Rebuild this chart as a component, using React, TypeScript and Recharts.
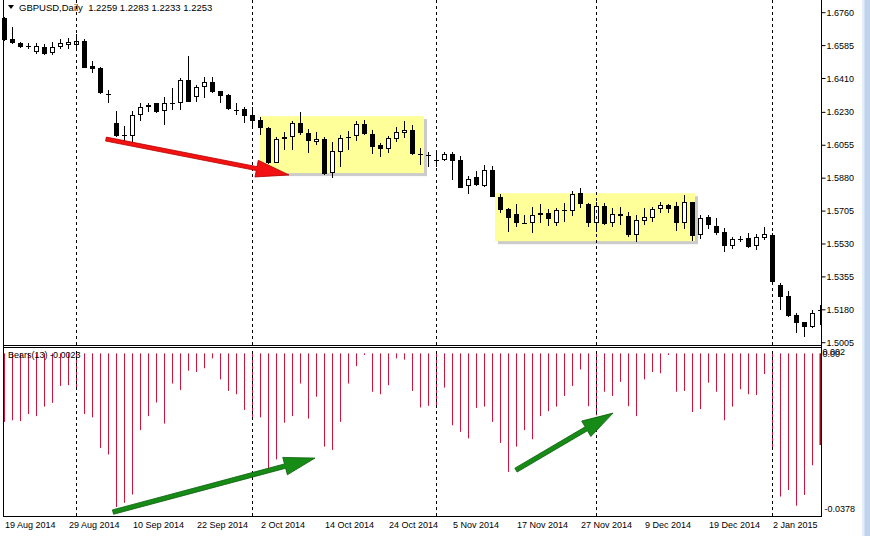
import { ComposedChart, Bar, XAxis, YAxis, ReferenceLine, ReferenceArea } from "recharts";

// GBPUSD daily candles, 19 Aug 2014 .. Jan 2015
const openP = [
  1.6732, 1.6619, 1.66, 1.6585, 1.6549, 1.6579, 1.6544, 1.6576, 1.6587, 1.659,
  1.6611, 1.6476, 1.6466, 1.633, 1.6172, 1.6108, 1.6106, 1.6214, 1.6257, 1.628,
  1.6237, 1.6279, 1.6278, 1.6402, 1.631, 1.6363, 1.6393, 1.6345, 1.6322, 1.6244,
  1.6246, 1.6216, 1.6189, 1.6148, 1.5962, 1.6087, 1.6101, 1.6172, 1.6119, 1.6074,
  1.6088, 1.5906, 1.6021, 1.6094, 1.6106, 1.6168, 1.6115, 1.6056, 1.6035, 1.6087,
  1.6122, 1.6136, 1.6008, 1.6002, 1.5975, 1.5976, 1.6008, 1.5977, 1.5838, 1.5884,
  1.5838, 1.5923, 1.5781, 1.5714, 1.5689, 1.5641, 1.564, 1.5682, 1.5693, 1.564,
  1.5709, 1.5705, 1.5799, 1.5741, 1.5643, 1.5732, 1.564, 1.5689, 1.5678, 1.5578,
  1.5652, 1.567, 1.5718, 1.5737, 1.5732, 1.564, 1.5755, 1.5578, 1.5672, 1.5627,
  1.5595, 1.5521, 1.5558, 1.5563, 1.5521, 1.5563, 1.5578, 1.5312, 1.5255, 1.5152,
  1.5116, 1.509, 1.5175,
];
const highP = [
  1.6735, 1.6686, 1.6604, 1.66, 1.66, 1.6595, 1.6606, 1.6619, 1.6624, 1.6645,
  1.6619, 1.6503, 1.6473, 1.6349, 1.6237, 1.6159, 1.6237, 1.6281, 1.6281, 1.6281,
  1.6313, 1.6358, 1.6411, 1.653, 1.6376, 1.6416, 1.6416, 1.6345, 1.633, 1.6281,
  1.6257, 1.6257, 1.6207, 1.615, 1.6097, 1.6127, 1.6185, 1.623, 1.614, 1.6127,
  1.6097, 1.6071, 1.6109, 1.6131, 1.6184, 1.6189, 1.6136, 1.6065, 1.6104, 1.615,
  1.6184, 1.6163, 1.6039, 1.6021, 1.603, 1.6021, 1.6021, 1.5998, 1.5891, 1.592,
  1.595, 1.5945, 1.5796, 1.572, 1.5742, 1.5684, 1.5725, 1.5741, 1.5714, 1.572,
  1.5746, 1.5812, 1.5829, 1.5746, 1.5755, 1.575, 1.572, 1.5728, 1.57, 1.5684,
  1.572, 1.5728, 1.5755, 1.5742, 1.5752, 1.579, 1.5755, 1.5684, 1.5684, 1.5666,
  1.5613, 1.5565, 1.5572, 1.5587, 1.5583, 1.5622, 1.5587, 1.5321, 1.528, 1.5161,
  1.5116, 1.5179, 1.5205,
];
const lowP = [
  1.6612, 1.6595, 1.6571, 1.6565, 1.654, 1.6535, 1.6535, 1.6565, 1.6565, 1.6565,
  1.6465, 1.6441, 1.6328, 1.6281, 1.61, 1.6074, 1.6069, 1.6185, 1.6233, 1.6225,
  1.6163, 1.6242, 1.6242, 1.6285, 1.6287, 1.6305, 1.6331, 1.6278, 1.624, 1.6216,
  1.6172, 1.6145, 1.6109, 1.5954, 1.5959, 1.603, 1.603, 1.6109, 1.6012, 1.6056,
  1.5897, 1.5879, 1.5941, 1.603, 1.6079, 1.6109, 1.6009, 1.5994, 1.6015, 1.6074,
  1.6092, 1.6003, 1.595, 1.5941, 1.5941, 1.597, 1.587, 1.5826, 1.5794, 1.5838,
  1.5835, 1.5778, 1.5696, 1.5595, 1.5622, 1.5639, 1.559, 1.564, 1.5625, 1.5625,
  1.5648, 1.5679, 1.572, 1.5619, 1.5595, 1.5629, 1.5622, 1.5629, 1.5569, 1.5542,
  1.5629, 1.5648, 1.5693, 1.5696, 1.56, 1.5609, 1.5547, 1.5555, 1.5608, 1.5578,
  1.5489, 1.5502, 1.5539, 1.5507, 1.5498, 1.5551, 1.5321, 1.5179, 1.5143, 1.5058,
  1.5037, 1.5081, 1.51,
];
const closeP = [
  1.6615, 1.6597, 1.6579, 1.6583, 1.6583, 1.654, 1.6576, 1.6597, 1.6606, 1.6608,
  1.6467, 1.6462, 1.6331, 1.6325, 1.6104, 1.6106, 1.6214, 1.6258, 1.6267, 1.6233,
  1.6279, 1.6281, 1.6402, 1.6287, 1.6363, 1.6393, 1.634, 1.6317, 1.6246, 1.6242,
  1.6212, 1.6186, 1.6145, 1.5959, 1.6087, 1.6101, 1.6172, 1.6119, 1.6079, 1.6088,
  1.5902, 1.6024, 1.6094, 1.6098, 1.6166, 1.6115, 1.6047, 1.6033, 1.6094, 1.6124,
  1.6136, 1.6008, 1.6006, 1.6004, 1.5973, 1.6008, 1.5973, 1.5829, 1.5874, 1.5843,
  1.5923, 1.5781, 1.5711, 1.567, 1.5643, 1.564, 1.5684, 1.5696, 1.5663, 1.5711,
  1.5711, 1.5794, 1.5741, 1.5643, 1.5732, 1.5636, 1.5688, 1.5678, 1.5578, 1.5657,
  1.5672, 1.5716, 1.5737, 1.5714, 1.564, 1.5752, 1.5572, 1.567, 1.5631, 1.559,
  1.5521, 1.5555, 1.5557, 1.5515, 1.5565, 1.5583, 1.5326, 1.5249, 1.5148, 1.5111,
  1.509, 1.5162, 1.518,
];
// Bears Power (13)
const bearsPower = [
  -0.0166, -0.0162, -0.0164, -0.0147, -0.0152, -0.0129, -0.012, -0.0079, -0.0077, -0.0084,
  -0.0147, -0.0155, -0.0229, -0.0245, -0.0372, -0.0362, -0.0342, -0.0186, -0.0152, -0.0119,
  -0.017, -0.0073, -0.0089, -0.0042, -0.0045, -0.0036, -0.0012, -0.0063, -0.0091, -0.0099,
  -0.0137, -0.0154, -0.0155, -0.0279, -0.0257, -0.0168, -0.0152, -0.0073, -0.0158, -0.0105,
  -0.0226, -0.0234, -0.0166, -0.0073, -0.0031, -0.0004, -0.0093, -0.0099, -0.0077, -0.0012,
  -0.0015, -0.0091, -0.0131, -0.0127, -0.013, -0.0083, -0.0174, -0.019, -0.0206, -0.0132,
  -0.0129, -0.0166, -0.0217, -0.0287, -0.0226, -0.0186, -0.0208, -0.0152, -0.014, -0.0129,
  -0.0103, -0.0079, -0.0039, -0.0128, -0.015, -0.0093, -0.0103, -0.0069, -0.0128, -0.0152,
  -0.0063, -0.0045, -0.0048, -0.0004, -0.0093, -0.0091, -0.0142, -0.0135, -0.0071, -0.0093,
  -0.0162, -0.0129, -0.0087, -0.0099, -0.0101, -0.005, -0.0233, -0.0347, -0.0331, -0.0369,
  -0.0343, -0.0271, -0.0222,
];

const priceTicks = [1.676, 1.6585, 1.641, 1.623, 1.6055, 1.588, 1.5705, 1.553, 1.5355, 1.518, 1.5005];
const dateTickIdx = [0, 8, 16, 24, 32, 40, 48, 56, 64, 72, 80, 88, 96];
const dateTickLabels = [
  "19 Aug 2014", "29 Aug 2014", "10 Sep 2014", "22 Sep 2014", "2 Oct 2014", "14 Oct 2014",
  "24 Oct 2014", "5 Nov 2014", "17 Nov 2014", "27 Nov 2014", "9 Dec 2014", "19 Dec 2014", "2 Jan 2015",
];
const monthStarts = [9, 31, 54, 74, 96];

// annotations drawn on the screenshot (bar index / price)
const boxes = [
  { x1: 32, x2: 52.5, y1: 1.5907, y2: 1.621 },
  { x1: 61.375, x2: 86.375, y1: 1.5545, y2: 1.58 },
];
const redArrow = [{ x: 12.75, y: 1.6088 }, { x: 35.625, y: 1.5897 }];
const greenArrows = [
  [{ x: 13.625, y: -0.03845 }, { x: 38.875, y: -0.02537 }],
  [{ x: 64, y: -0.02828 }, { x: 76.125, y: -0.01447 }],
];

const rows = openP.map((o, i) => ({
  idx: i,
  open: o,
  high: highP[i],
  low: lowP[i],
  close: closeP[i],
  bears: bearsPower[i],
}));

const FONT = "'Liberation Sans', Arial, sans-serif";
const X_DOMAIN = [-0.5, 102.1875];
const AXIS_W = 48.5;

const Candle = (props: any) => {
  const { x, y, width, height, payload } = props;
  const cx = Math.round(x + width / 2);
  const top = Math.min(y, y + height);
  const bot = Math.max(y, y + height);
  const { open, close, high, low } = payload;
  const py = (v: number) => top + ((high - v) / (high - low)) * (bot - top);
  const bt = Math.round(py(Math.max(open, close)));
  const bb = Math.round(py(Math.min(open, close)));
  let body;
  if (bb - bt <= 1) {
    body = <rect x={cx - 2} y={bt} width={5} height={1} fill="#000" />;
  } else if (close >= open) {
    body = (
      <rect x={cx - 1.5} y={bt + 0.5} width={4} height={bb - bt - 1} fill="#fff" stroke="#000" strokeWidth={1} />
    );
  } else {
    body = <rect x={cx - 2} y={bt} width={5} height={bb - bt} fill="#000" />;
  }
  return (
    <g>
      <line x1={cx + 0.5} x2={cx + 0.5} y1={Math.round(top)} y2={Math.round(bot)} stroke="#000" strokeWidth={1} />
      {body}
    </g>
  );
};

const BearBar = (props: any) => {
  const { x, y, width, height, payload } = props;
  const cx = Math.round(x + width / 2);
  const top = Math.min(y, y + height);
  const h = Math.abs(height);
  const last = payload.idx === rows.length - 1;
  return (
    <rect x={last ? cx - 0.5 : cx} y={top} width={last ? 2 : 1} height={h} fill={last ? "#9b0a1e" : "#d2143c"} />
  );
};

const Highlight = (props: any) => {
  const { x, y, width, height } = props;
  return (
    <g>
      <rect x={x + 3} y={y + 3} width={width} height={height} fill="#8c8c8c" opacity={0.45} />
      <rect x={x} y={y} width={width} height={height} fill="#ffff99" />
    </g>
  );
};

const Arrow = ({ x1, y1, x2, y2, fill, edge, shaft, head, half }: any) => {
  const dx = x2 - x1;
  const dy = y2 - y1;
  const len = Math.hypot(dx, dy);
  const ux = dx / len;
  const uy = dy / len;
  const nx = -uy;
  const ny = ux;
  const bx = x2 - ux * head;
  const by = y2 - uy * head;
  const s = shaft / 2;
  const pts = [
    [x1 + nx * s, y1 + ny * s],
    [bx + nx * s, by + ny * s],
    [bx + nx * half, by + ny * half],
    [x2, y2],
    [bx - nx * half, by - ny * half],
    [bx - nx * s, by - ny * s],
    [x1 - nx * s, y1 - ny * s],
  ];
  return (
    <polygon
      points={pts.map((p) => p.join(",")).join(" ")}
      fill={fill}
      stroke={edge}
      strokeWidth={0.8}
      strokeLinejoin="round"
    />
  );
};

const PriceTick = ({ x, y, payload }: any) => (
  <text x={x} y={y + 3} fontSize={9} fontFamily={FONT} fill="#000">
    {payload.value.toFixed(4)}
  </text>
);

const BearsTick = ({ x, y, payload }: any) =>
  payload.value === 0 ? (
    <g fontSize={9} fontFamily={FONT} fill="#000">
      <text x={x} y={y + 1.5}>0.002</text>
      <text x={x} y={y + 4}>0.00</text>
    </g>
  ) : (
    <text x={x + 2} y={y + 3} fontSize={9} fontFamily={FONT} fill="#000">
      {payload.value.toFixed(4)}
    </text>
  );

const DateTick = ({ x, y, payload }: any) => (
  <text x={x + 1} y={y + 12} fontSize={9} fontFamily={FONT} fill="#000">
    {dateTickLabels[dateTickIdx.indexOf(payload.value)]}
  </text>
);

export default function App() {
  return (
    <div style={{ position: "absolute", left: 0, top: 0, width: 870, height: 536, background: "#fff", overflow: "hidden" }}>
      {/* Bears(13) window */}
      <div style={{ position: "absolute", left: 0, top: 348 }}>
        <ComposedChart width={870} height={188} data={rows} margin={{ top: 0, right: 0, bottom: 0, left: 0 }}>
          <XAxis
            type="number"
            dataKey="idx"
            domain={X_DOMAIN}
            allowDataOverflow
            ticks={dateTickIdx}
            interval={0}
            height={20}
            axisLine={false}
            tickLine={false}
            tickSize={0}
            tickMargin={0}
            tick={<DateTick />}
          />
          <YAxis
            orientation="right"
            width={AXIS_W}
            domain={[-0.0394, 0.0013]}
            allowDataOverflow
            ticks={[0, -0.0378]}
            interval={0}
            axisLine={false}
            tickLine={false}
            tickSize={0}
            tickMargin={1}
            tick={<BearsTick />}
          />
          {monthStarts.map((m) => (
            <ReferenceLine key={m} x={m + 0.0625} stroke="#000" strokeDasharray="3 3" strokeWidth={1} />
          ))}
          <Bar dataKey="bears" barSize={1} shape={<BearBar />} isAnimationActive={false} />
          {greenArrows.map((seg, i) => (
            <ReferenceLine
              key={i}
              segment={seg}
              ifOverflow="visible"
              shape={(p: any) => (
                <Arrow x1={p.x1} y1={p.y1} x2={p.x2} y2={p.y2} fill="#168c16" edge="#0a5a0a" shaft={4.5} head={31} half={9} />
              )}
            />
          ))}
        </ComposedChart>
      </div>

      {/* price window (svg a little taller than the plot so the lowest price label is not cut) */}
      <div style={{ position: "absolute", left: 0, top: 0 }}>
        <ComposedChart width={870} height={353} data={rows} margin={{ top: 0, right: 0, bottom: 8, left: 0 }}>
          <XAxis type="number" dataKey="idx" domain={X_DOMAIN} allowDataOverflow hide />
          <YAxis
            orientation="right"
            width={AXIS_W}
            domain={[1.49928, 1.68275]}
            allowDataOverflow
            ticks={priceTicks}
            interval={0}
            axisLine={false}
            tickSize={4}
            tickMargin={1}
            tickLine={{ stroke: "#000" }}
            tick={<PriceTick />}
          />
          {boxes.map((b, i) => (
            <ReferenceArea key={i} x1={b.x1} x2={b.x2} y1={b.y1} y2={b.y2} ifOverflow="visible" shape={<Highlight />} />
          ))}
          {monthStarts.map((m) => (
            <ReferenceLine key={m} x={m + 0.0625} stroke="#000" strokeDasharray="3 3" strokeWidth={1} />
          ))}
          <Bar dataKey={(d: any) => [d.low, d.high]} barSize={5} shape={<Candle />} isAnimationActive={false} />
          <ReferenceLine
            segment={redArrow}
            ifOverflow="visible"
            shape={(p: any) => (
              <Arrow x1={p.x1} y1={p.y1} x2={p.x2} y2={p.y2} fill="#f21212" edge="#b40000" shaft={4} head={33} half={8.5} />
            )}
          />
        </ComposedChart>
      </div>

      {/* window frames */}
      <svg width={870} height={536} style={{ position: "absolute", left: 0, top: 0, pointerEvents: "none" }}>
        <g stroke="#000" strokeWidth={1} fill="none">
          <line x1={3.5} y1={0} x2={3.5} y2={517} />
          <line x1={821.5} y1={0} x2={821.5} y2={517} />
          <line x1={3} y1={345.5} x2={822} y2={345.5} />
          <line x1={3} y1={347.5} x2={822} y2={347.5} />
          <line x1={3} y1={516.5} x2={822} y2={516.5} />
        </g>
        <path d="M8,5 L14,5 L11,9 Z" fill="#000" />
        <text x={19} y={11} fontSize={9.5} fontFamily={FONT} fill="#000" style={{ whiteSpace: "pre" }}>
          {"GBPUSD,Daily  1.2259 1.2283 1.2233 1.2253"}
        </text>
        <text x={8} y={358} fontSize={9} fontFamily={FONT} fill="#000">
          Bears(13) -0.0023
        </text>
      </svg>
      <div
        style={{
          position: "absolute",
          left: 862,
          top: 0,
          width: 8,
          height: 536,
          background: "linear-gradient(to right, #e4eef9 0px, #e4eef9 2px, #bdd3ee 3px, #bdd3ee 8px)",
        }}
      />
    </div>
  );
}
